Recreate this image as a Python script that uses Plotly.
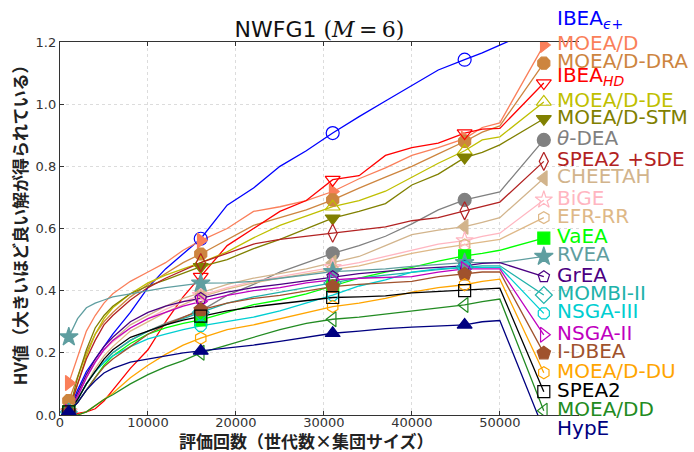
import plotly.graph_objects as go

# evaluation counts where HV was sampled
evals = [1000, 2000, 3000, 4000, 5000, 6000, 8000, 10000, 12000, 14000, 16000,
         19000, 22000, 25000, 28000, 31000, 34000, 37000, 40000, 43000, 46000, 48000, 50000]
label_x = 55000
marker_idx = [0, 10, 15, 20]

ibea_eps = [0.01, 0.08, 0.14, 0.18, 0.22, 0.26, 0.33, 0.41, 0.47, 0.52, 0.567, 0.675, 0.73, 0.80, 0.85, 0.907, 0.96, 1.01, 1.06, 1.11, 1.143, 1.165, 1.19]
moead = [0.103, 0.19, 0.27, 0.32, 0.36, 0.39, 0.43, 0.46, 0.49, 0.53, 0.561, 0.60, 0.655, 0.67, 0.69, 0.719, 0.76, 0.795, 0.835, 0.86, 0.889, 0.925, 0.94]
moead_dra = [0.046, 0.12, 0.20, 0.26, 0.30, 0.33, 0.38, 0.42, 0.455, 0.49, 0.518, 0.565, 0.61, 0.635, 0.66, 0.692, 0.73, 0.765, 0.80, 0.84, 0.88, 0.91, 0.93]
ibea_hd = [0.0, 0.005, 0.01, 0.02, 0.045, 0.08, 0.15, 0.21, 0.30, 0.38, 0.445, 0.545, 0.60, 0.655, 0.69, 0.757, 0.77, 0.835, 0.86, 0.875, 0.907, 0.92, 0.922]
moead_de = [0.01, 0.10, 0.19, 0.26, 0.31, 0.345, 0.39, 0.425, 0.45, 0.47, 0.49, 0.525, 0.57, 0.61, 0.64, 0.67, 0.69, 0.72, 0.765, 0.81, 0.85, 0.885, 0.895]
moead_stm = [0.01, 0.12, 0.21, 0.28, 0.32, 0.35, 0.39, 0.415, 0.435, 0.455, 0.477, 0.50, 0.535, 0.565, 0.60, 0.633, 0.655, 0.68, 0.74, 0.775, 0.828, 0.845, 0.869]
theta_dea = [0.01, 0.05, 0.10, 0.14, 0.17, 0.20, 0.24, 0.27, 0.295, 0.315, 0.335, 0.385, 0.42, 0.46, 0.49, 0.52, 0.545, 0.575, 0.615, 0.66, 0.692, 0.705, 0.718]
spea2_sde = [0.01, 0.10, 0.18, 0.24, 0.29, 0.32, 0.37, 0.41, 0.44, 0.465, 0.49, 0.52, 0.55, 0.565, 0.575, 0.585, 0.595, 0.605, 0.625, 0.635, 0.657, 0.67, 0.685]
cheetah = [0.01, 0.06, 0.12, 0.17, 0.21, 0.24, 0.29, 0.32, 0.35, 0.375, 0.394, 0.42, 0.44, 0.455, 0.47, 0.49, 0.51, 0.545, 0.58, 0.595, 0.606, 0.62, 0.635]
bige = [0.01, 0.06, 0.12, 0.17, 0.21, 0.235, 0.28, 0.31, 0.34, 0.365, 0.385, 0.41, 0.43, 0.445, 0.46, 0.475, 0.49, 0.51, 0.53, 0.55, 0.561, 0.575, 0.585]
efr_rr = [0.01, 0.05, 0.10, 0.15, 0.19, 0.22, 0.27, 0.30, 0.33, 0.355, 0.38, 0.405, 0.425, 0.44, 0.455, 0.468, 0.48, 0.50, 0.52, 0.535, 0.547, 0.555, 0.565]
vaea = [0.01, 0.04, 0.08, 0.12, 0.16, 0.19, 0.23, 0.26, 0.28, 0.295, 0.306, 0.33, 0.355, 0.37, 0.39, 0.415, 0.44, 0.46, 0.475, 0.495, 0.512, 0.52, 0.53]
rvea = [0.251, 0.31, 0.345, 0.36, 0.37, 0.38, 0.39, 0.40, 0.41, 0.417, 0.424, 0.425, 0.43, 0.44, 0.45, 0.461, 0.465, 0.47, 0.478, 0.485, 0.49, 0.49, 0.49]
grea = [0.01, 0.07, 0.13, 0.18, 0.22, 0.25, 0.30, 0.33, 0.35, 0.365, 0.375, 0.395, 0.41, 0.42, 0.432, 0.445, 0.455, 0.462, 0.47, 0.475, 0.48, 0.488, 0.49]
mombi2 = [0.01, 0.05, 0.10, 0.14, 0.17, 0.20, 0.24, 0.27, 0.29, 0.31, 0.33, 0.36, 0.38, 0.395, 0.41, 0.425, 0.44, 0.45, 0.46, 0.468, 0.475, 0.48, 0.48]
nsga3 = [0.01, 0.05, 0.10, 0.14, 0.17, 0.19, 0.22, 0.245, 0.26, 0.275, 0.287, 0.30, 0.315, 0.335, 0.36, 0.386, 0.415, 0.435, 0.46, 0.47, 0.475, 0.475, 0.475]
nsga2 = [0.01, 0.06, 0.12, 0.17, 0.21, 0.24, 0.28, 0.31, 0.33, 0.35, 0.365, 0.385, 0.40, 0.41, 0.425, 0.435, 0.44, 0.443, 0.445, 0.46, 0.47, 0.47, 0.47]
idbea = [0.01, 0.04, 0.08, 0.12, 0.155, 0.18, 0.22, 0.26, 0.29, 0.315, 0.338, 0.36, 0.375, 0.385, 0.40, 0.413, 0.42, 0.425, 0.43, 0.445, 0.453, 0.46, 0.46]
moead_du = [0.0, 0.0, 0.01, 0.03, 0.05, 0.07, 0.12, 0.16, 0.195, 0.225, 0.247, 0.275, 0.29, 0.31, 0.33, 0.349, 0.36, 0.375, 0.395, 0.41, 0.419, 0.43, 0.437]
spea2 = [0.01, 0.05, 0.10, 0.14, 0.18, 0.21, 0.25, 0.27, 0.29, 0.305, 0.318, 0.335, 0.348, 0.358, 0.37, 0.378, 0.38, 0.383, 0.393, 0.397, 0.40, 0.405, 0.408]
moeadd = [0.0, 0.0, 0.01, 0.03, 0.05, 0.065, 0.10, 0.13, 0.155, 0.175, 0.20, 0.225, 0.25, 0.275, 0.295, 0.308, 0.315, 0.325, 0.335, 0.345, 0.354, 0.365, 0.373]
hype = [0.01, 0.04, 0.08, 0.11, 0.135, 0.15, 0.17, 0.18, 0.19, 0.20, 0.206, 0.215, 0.225, 0.237, 0.25, 0.263, 0.27, 0.278, 0.283, 0.287, 0.29, 0.30, 0.304]

names = ["IBEA<sub><i>ϵ+</i></sub>", "MOEA/D", "MOEA/D-DRA", "IBEA<sub><i>HD</i></sub>", "MOEA/D-DE",
         "MOEA/D-STM", "<i>θ</i>-DEA", "SPEA2 +SDE", "CHEETAH", "BiGE", "EFR-RR", "VaEA", "RVEA",
         "GrEA", "MOMBI-II", "NSGA-III", "NSGA-II", "I-DBEA", "MOEA/D-DU", "SPEA2", "MOEA/DD", "HypE"]
label_y = [1.252, 1.19, 1.132, 1.068, 1.007, 0.953, 0.885, 0.816, 0.762, 0.692, 0.635,
           0.569, 0.51, 0.445, 0.386, 0.327, 0.258, 0.199, 0.136, 0.075, 0.014, -0.048]
series = [ibea_eps, moead, moead_dra, ibea_hd, moead_de, moead_stm, theta_dea, spea2_sde,
          cheetah, bige, efr_rr, vaea, rvea, grea, mombi2, nsga3, nsga2, idbea, moead_du,
          spea2, moeadd, hype]

styles = [
    ("#0000ff", "circle-open", 13),
    ("#fa7f5a", "triangle-right", 13),
    ("#cd853f", "octagon", 13),
    ("#ff0000", "triangle-down-open", 13),
    ("#bfbf00", "triangle-up-open", 13),
    ("#808000", "triangle-down", 13),
    ("#808080", "circle", 13),
    ("#b22222", "diamond-tall-open", 13),
    ("#d2b48c", "triangle-left", 13),
    ("#ffb6c1", "star-open", 13),
    ("#deb887", "hexagon-open", 12),
    ("#00ff00", "square", 12),
    ("#5f9ea0", "star", 14),
    ("#4b0082", "pentagon-open", 12),
    ("#20b2aa", "diamond-open", 13),
    ("#00ced1", "octagon-open", 12),
    ("#bf00bf", "triangle-right-open", 13),
    ("#a0522d", "pentagon", 14),
    ("#ffa500", "hexagon-open", 12),
    ("#000000", "square-open", 12),
    ("#228b22", "triangle-left-open", 13),
    ("#000080", "triangle-up", 13),
]

YMAX = 1.2

fig = go.Figure()
for vals, ly, (col, sym, sz) in zip(series, label_y, styles):
    fig.add_trace(go.Scatter(x=evals + [label_x], y=vals + [ly], mode="lines",
                             line=dict(color=col, width=1.3), showlegend=False,
                             hoverinfo="skip"))
for vals, ly, (col, sym, sz) in zip(series, label_y, styles):
    mx = [evals[j] for j in marker_idx] + [label_x]
    my = [vals[j] for j in marker_idx] + [ly]
    fig.add_trace(go.Scatter(x=mx, y=my, mode="markers", showlegend=False,
                             marker=dict(symbol=sym, size=sz, color=col,
                                         line=dict(color=col, width=1.2))))

annotations = []
for name, ly, (col, sym, sz) in zip(names, label_y, styles):
    shift = 7 if "<sub>" in name else 2
    annotations.append(dict(x=56300, y=ly / YMAX, xref="x", yref="paper", text=name,
                            showarrow=False, xanchor="left", yanchor="middle", yshift=shift,
                            font=dict(family="DejaVu Sans", size=20, color=col)))

annotations.append(dict(x=0.475, y=-0.069, xref="paper", yref="paper",
                        text="<b>評価回数（世代数×集団サイズ）</b>", showarrow=False,
                        xanchor="center", yanchor="middle",
                        font=dict(family="Noto Sans CJK JP", size=17, color="#222")))
annotations.append(dict(x=-0.079, y=0.522, xref="paper", yref="paper",
                        text="<b>HV値（大きいほど良い解が得られている）</b>", showarrow=False,
                        textangle=-90, xanchor="center", yanchor="middle",
                        font=dict(family="Noto Sans CJK JP", size=17, color="#222")))

fig.update_layout(
    width=694, height=452,
    margin=dict(l=60, r=115, t=42, b=37),
    plot_bgcolor="white", paper_bgcolor="white",
    title=dict(text="NWFG1 <span style='font-family:DejaVu Serif'>(<i>M</i>\u2009=\u20096)</span>",
               x=0.5, xref="paper", xanchor="center",
               y=1 - 29 / 452, yref="container", yanchor="middle",
               font=dict(family="DejaVu Sans", size=22, color="#111")),
    annotations=annotations,
    xaxis=dict(range=[0, 59000], tickvals=[0, 10000, 20000, 30000, 40000, 50000],
               ticktext=["0", "10000", "20000", "30000", "40000", "50000"],
               showgrid=True, gridcolor="#dcdcdc", griddash="dot", gridwidth=1,
               zeroline=False, showline=True, linecolor="#333", linewidth=1.3,
               mirror="ticks", ticks="inside", ticklen=4, tickcolor="#333",
               ticklabelstandoff=-5,
               tickfont=dict(family="DejaVu Sans", size=13, color="#333")),
    yaxis=dict(range=[0, YMAX], tickvals=[0, 0.2, 0.4, 0.6, 0.8, 1.0, 1.2],
               tickformat=".1f",
               showgrid=True, gridcolor="#dcdcdc", griddash="dot", gridwidth=1,
               zeroline=False, showline=True, linecolor="#333", linewidth=1.3,
               ticks="inside", ticklen=4, tickcolor="#333",
               tickfont=dict(family="DejaVu Sans", size=13, color="#333")),
)

fig.write_html("out.html", config={"displayModeBar": False},
               post_script="document.body.style.margin='0';document.body.style.overflow='hidden';")
